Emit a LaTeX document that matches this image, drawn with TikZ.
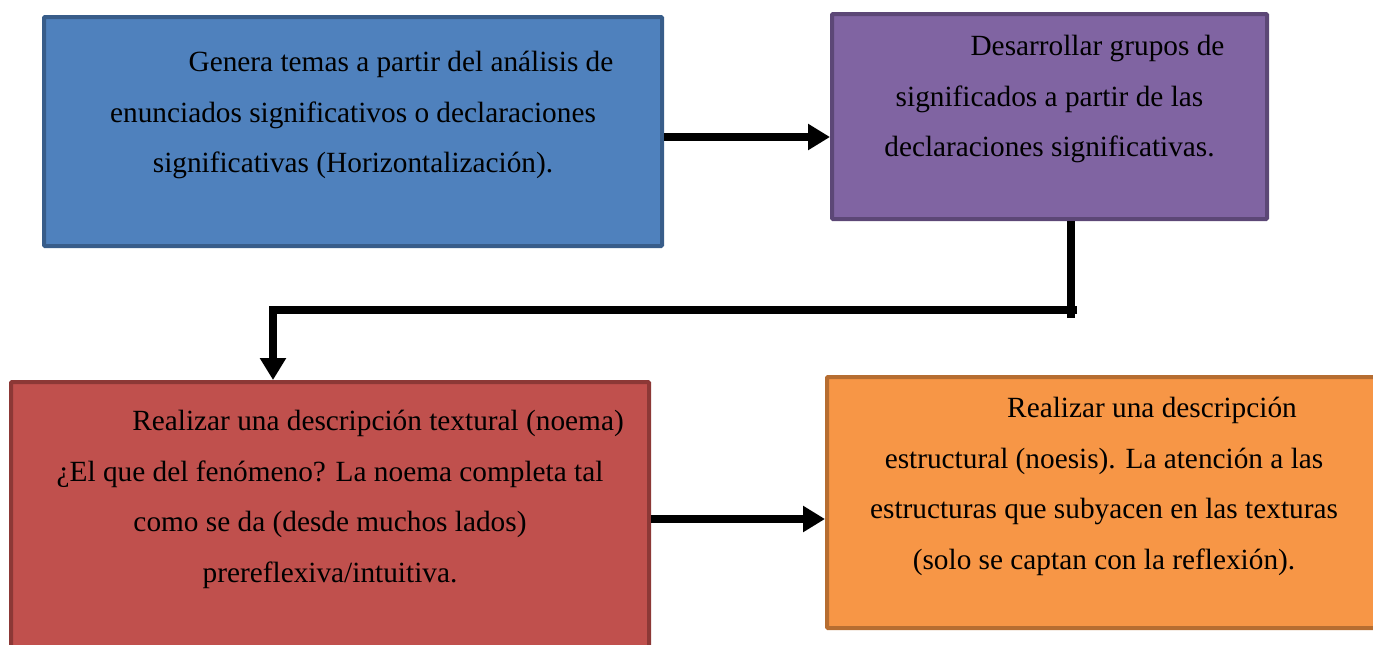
\documentclass[tikz,border=0pt]{standalone}
\usepackage{fontspec}
\setmainfont{Liberation Serif}
\usetikzlibrary{arrows.meta}

\definecolor{bluefill}{HTML}{4F81BD}
\definecolor{blueline}{HTML}{385D8A}
\definecolor{purplefill}{HTML}{8064A2}
\definecolor{purpleline}{HTML}{5C4776}
\definecolor{redfill}{HTML}{C0504D}
\definecolor{redline}{HTML}{8C3836}
\definecolor{orangefill}{HTML}{F79646}
\definecolor{orangeline}{HTML}{B66D31}

\tikzstyle{stage}=[rectangle,line width=4pt,inner sep=0pt,rounded corners=1pt]
\tikzstyle{bluestage}=[stage,draw=blueline,fill=bluefill]
\tikzstyle{purplestage}=[stage,draw=purpleline,fill=purplefill]
\tikzstyle{redstage}=[stage,draw=redline,fill=redfill]
\tikzstyle{orangestage}=[stage,draw=orangeline,fill=orangefill]
\tikzstyle{stagetext}=[anchor=north,align=center,inner sep=0pt,font=\fontsize{29.3}{50.6}\selectfont]

\begin{document}
\begin{tikzpicture}[x=1pt,y=-1pt,>={Triangle[length=22pt,width=25pt]}]
  \useasboundingbox (0,0) rectangle (1373,645);
  % boxes
  \node (gen) [bluestage,minimum width=618pt,minimum height=229pt] at (353,131.5) {};
  \node (mean) [purplestage,minimum width=435pt,minimum height=205pt] at (1049.5,116.5) {};
  \node (textural) [redstage,minimum width=638pt,minimum height=296pt] at (330,530) {};
  \node (structural) [orangestage,minimum width=554pt,minimum height=251pt] at (1104,502.5) {};
  % texts
  \node (gentext) [stagetext] at ([yshift=-36pt]gen.north)
    {\hspace*{96pt}Genera temas a partir del análisis de\\
     enunciados significativos o declaraciones\\
     significativas (Horizontalización).};
  \node (meantext) [stagetext] at ([yshift=-23pt]mean.north)
    {\hspace*{96pt}Desarrollar grupos de\\
     significados a partir de las\\
     declaraciones significativas.};
  \node (texturaltext) [stagetext] at ([yshift=-30pt]textural.north)
    {\hspace*{96pt}Realizar una descripción textural (noema)\\
     ¿El que del fenómeno? La noema completa tal\\
     como se da (desde muchos lados)\\
     prereflexiva/intuitiva.};
  \node (structuraltext) [stagetext] at ([yshift=-22pt]structural.north)
    {\hspace*{96pt}Realizar una descripción\\
     estructural (noesis). La atención a las\\
     estructuras que subyacen en las texturas\\
     (solo se captan con la reflexión).};
  % connectors
  \coordinate (bend) at (1071,310);
  \path[->,line width=8pt]
  (gen.east |- 0,137) edge (mean.west |- 0,137)
  (textural.east |- 0,519) edge (structural.west |- 0,519);
  \draw[line width=8pt] (mean.south -| bend) -- ([yshift=-8pt]bend);
  \draw[->,line width=8pt] ([xshift=6pt]bend) -| (textural.north -| 273,0);
\end{tikzpicture}
\end{document}
